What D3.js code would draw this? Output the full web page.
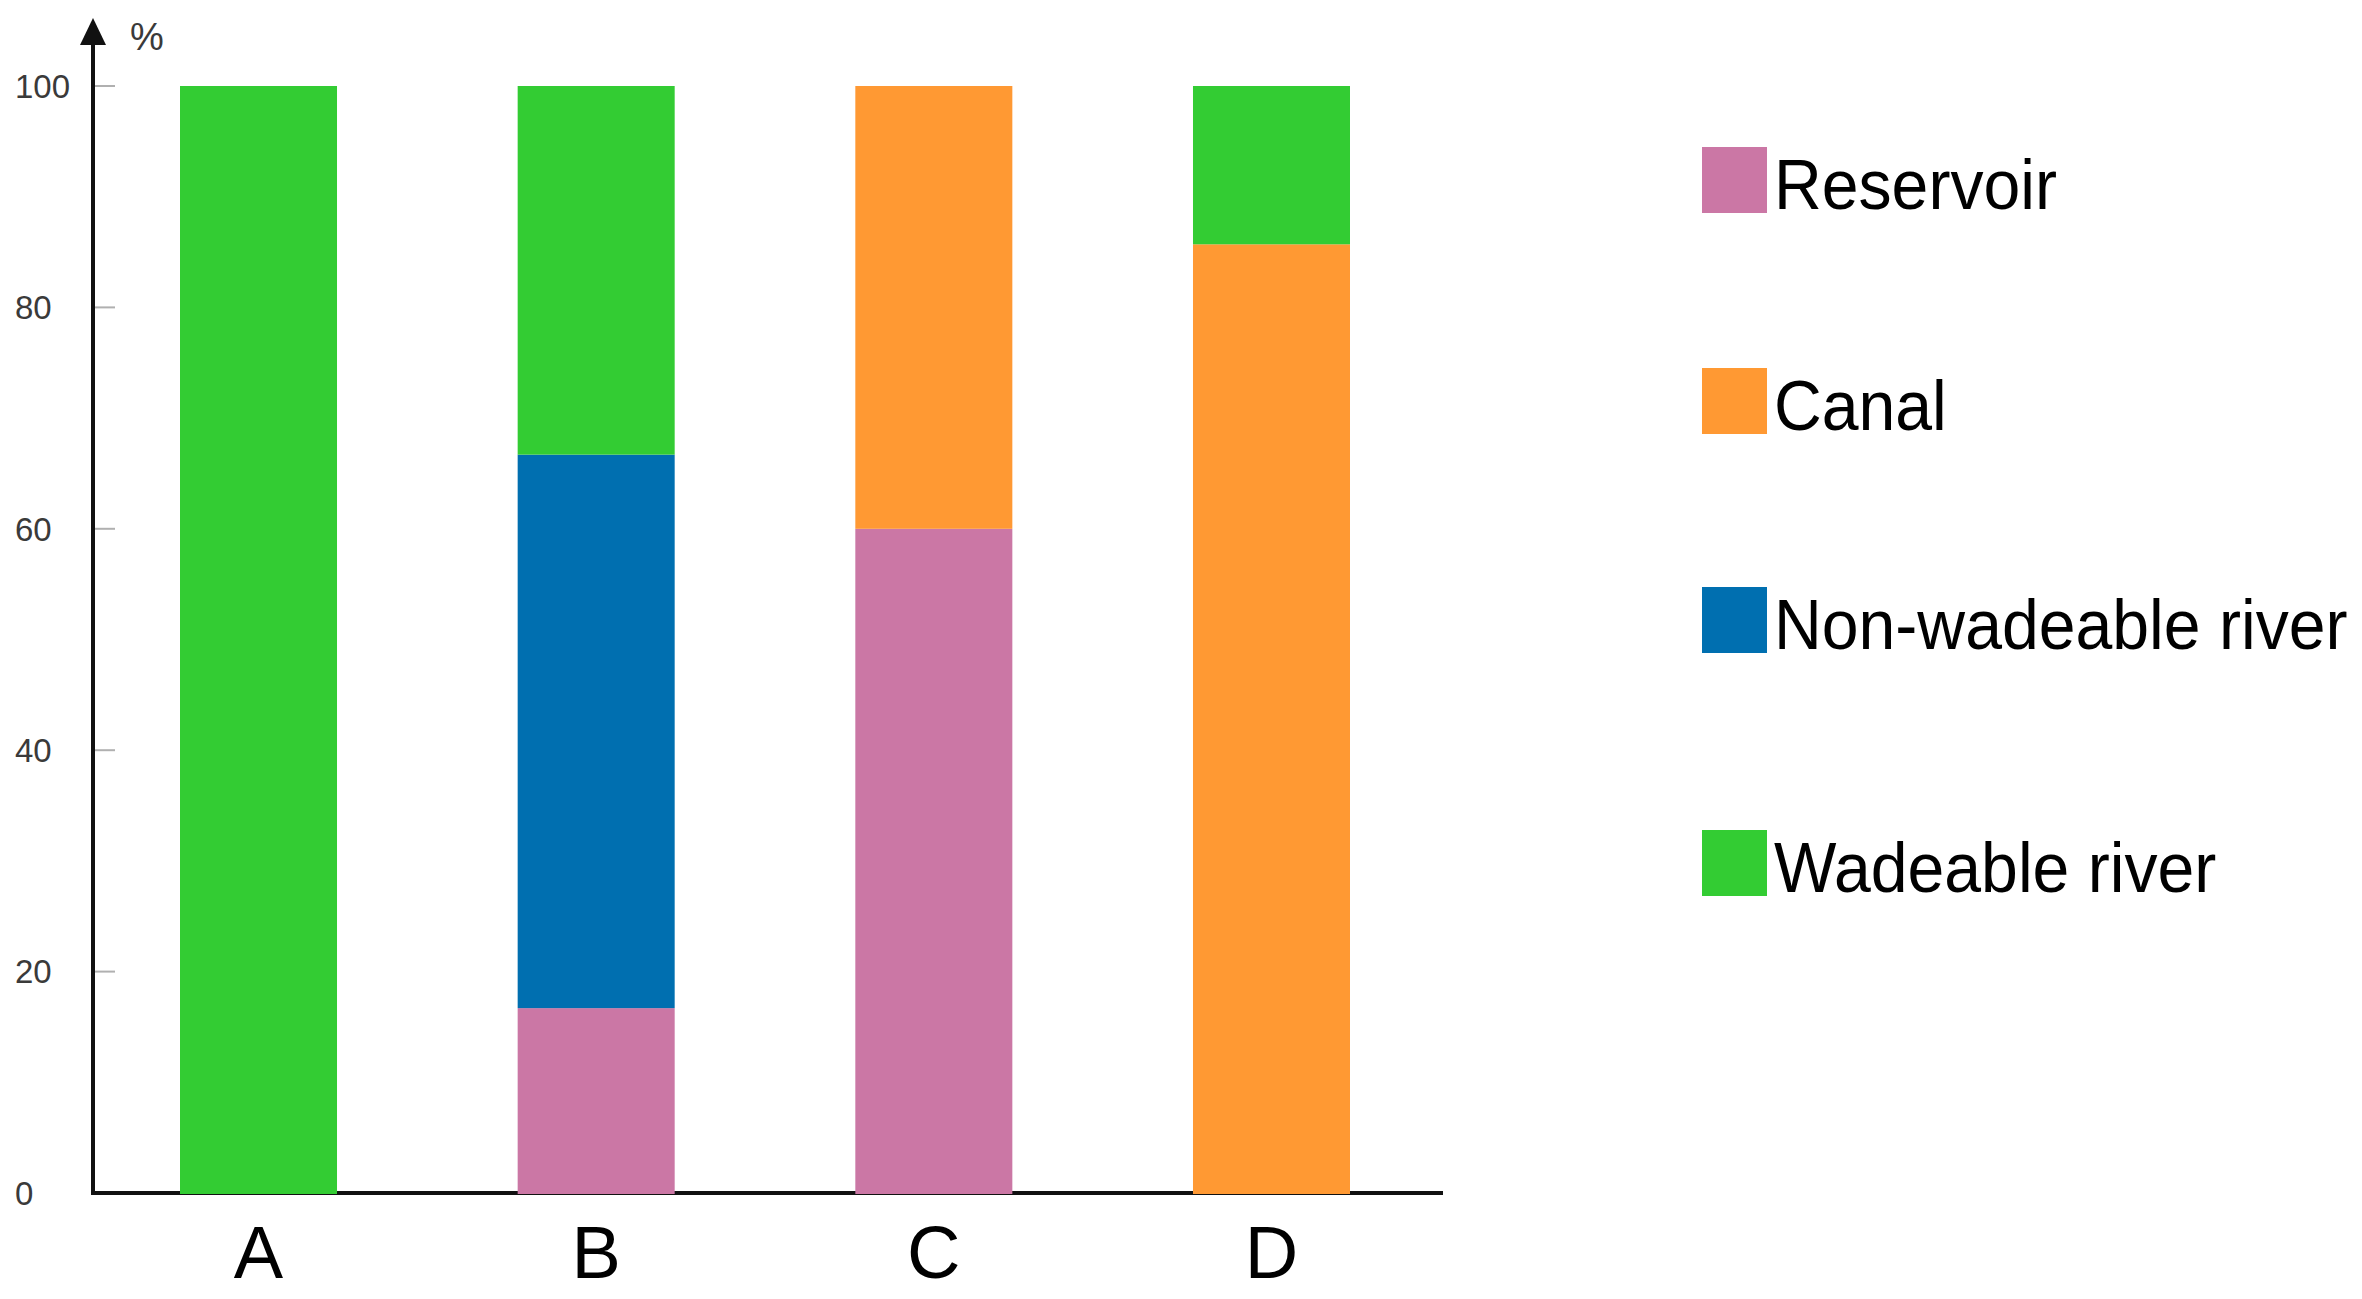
<!DOCTYPE html>
<html>
<head>
<meta charset="utf-8">
<script src="https://cdn.jsdelivr.net/npm/d3@7"></script>
<style>
  html, body { margin: 0; padding: 0; background: #fff; }
  svg { display: block; font-family: "Liberation Sans", Arial, sans-serif; }
</style>
</head>
<body>
<svg id="chart" width="2362" height="1299"></svg>
<script>
// ---- data ----
const categories = ["A", "B", "C", "D"];
const seriesNames = ["Reservoir", "Canal", "Non-wadeable river", "Wadeable river"];
const reservoir = [0, 16.7, 60, 0];
const canal = [0, 0, 40, 85.7];
const nonWadeable = [0, 50, 0, 0];
const wadeable = [100, 33.3, 0, 14.3];
const seriesColors = ["#CB77A5", "#FF9933", "#006FB0", "#33CC33"];
const yTicks = [0, 20, 40, 60, 80, 100];
const yUnit = "%";

// ---- build table ----
const table = categories.map((c, i) => ({
  cat: c,
  "Reservoir": reservoir[i],
  "Canal": canal[i],
  "Non-wadeable river": nonWadeable[i],
  "Wadeable river": wadeable[i]
}));
const stacked = d3.stack().keys(seriesNames)(table);

const svg = d3.select("#chart");
const axisX = 93, axisY = 1193;

const x = d3.scaleBand().domain(categories).range([180, 1350]).paddingInner(0.535).paddingOuter(0);
const y = d3.scaleLinear().domain([0, 100]).range([axisY, 86]);
const color = d3.scaleOrdinal().domain(seriesNames).range(seriesColors);

// y tick marks
const tickG = svg.append("g");
tickG.selectAll("line").data(yTicks.filter(t => t > 0)).join("line")
  .attr("x1", axisX).attr("x2", axisX + 22)
  .attr("y1", d => y(d)).attr("y2", d => y(d))
  .attr("stroke", "#b0b0b0").attr("stroke-width", 2);
tickG.selectAll("text").data(yTicks).join("text")
  .attr("x", 15).attr("y", d => y(d))
  .attr("dy", "0.36em")
  .attr("font-size", 33).attr("fill", "#3a3a3a")
  .text(d => d);

// axes lines
svg.append("line").attr("x1", axisX).attr("x2", axisX).attr("y1", axisY + 2).attr("y2", 40)
  .attr("stroke", "#111").attr("stroke-width", 4);
svg.append("line").attr("x1", axisX - 2).attr("x2", 1443).attr("y1", axisY).attr("y2", axisY)
  .attr("stroke", "#111").attr("stroke-width", 4);
svg.append("path").attr("d", `M${axisX},18 L${axisX - 13},45 L${axisX + 13},45 Z`).attr("fill", "#111");

svg.append("text").attr("x", 130).attr("y", 50).attr("font-size", 38).attr("fill", "#3a3a3a").text(yUnit);

// bars
svg.append("g").selectAll("g").data(stacked).join("g")
  .attr("fill", d => color(d.key))
  .selectAll("rect").data(d => d.filter(s => s[1] - s[0] > 0)).join("rect")
  .attr("x", d => x(d.data.cat))
  .attr("width", x.bandwidth())
  .attr("y", d => y(d[1]))
  .attr("height", d => y(d[0]) - y(d[1]) + (d[0] === 0 ? 1 : 0));

// x labels
svg.append("g").selectAll("text").data(categories).join("text")
  .attr("x", d => x(d) + x.bandwidth() / 2)
  .attr("y", 1278)
  .attr("text-anchor", "middle")
  .attr("font-size", 74).attr("fill", "#000")
  .text(d => d);

// legend
const legendTops = [147, 368, 587, 830];
const lg = svg.append("g").selectAll("g").data(seriesNames).join("g")
  .attr("transform", (d, i) => `translate(1702,${legendTops[i]})`);
lg.append("rect").attr("width", 65).attr("height", 66).attr("fill", d => color(d));
lg.append("text")
  .attr("transform", "translate(72,62) scale(0.945,1)")
  .attr("font-size", 70).attr("fill", "#000")
  .text(d => d);
</script>
</body>
</html>
